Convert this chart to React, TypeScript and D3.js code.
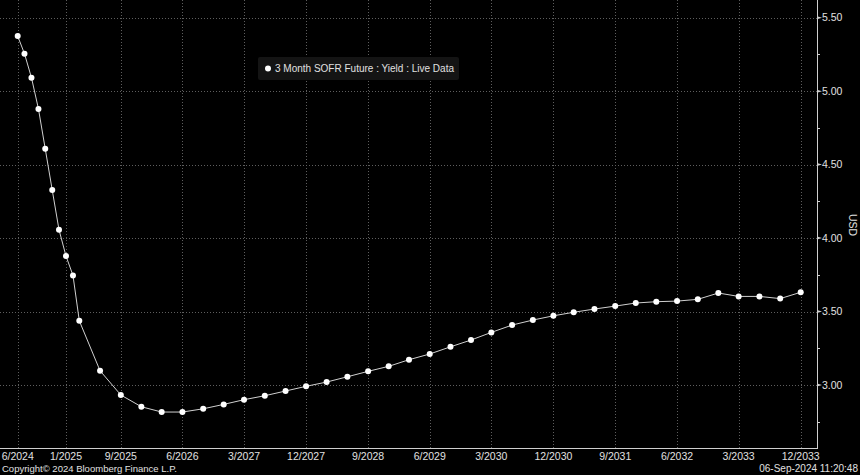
import React from "react";
import * as d3 from "d3";

const W = 860;
const H = 475;

// Contract months (year, month 1-12)
const contractMonths: [number, number][] = [
  [2024, 6], [2024, 7], [2024, 8], [2024, 9], [2024, 10], [2024, 11], [2024, 12],
  [2025, 1], [2025, 2], [2025, 3], [2025, 6], [2025, 9], [2025, 12],
  [2026, 3], [2026, 6], [2026, 9], [2026, 12],
  [2027, 3], [2027, 6], [2027, 9], [2027, 12],
  [2028, 3], [2028, 6], [2028, 9], [2028, 12],
  [2029, 3], [2029, 6], [2029, 9], [2029, 12],
  [2030, 3], [2030, 6], [2030, 9], [2030, 12],
  [2031, 3], [2031, 6], [2031, 9], [2031, 12],
  [2032, 3], [2032, 6], [2032, 9], [2032, 12],
  [2033, 3], [2033, 6], [2033, 9], [2033, 12],
];

const yields: number[] = [
  5.375, 5.255, 5.092, 4.879, 4.608, 4.327, 4.057,
  3.878, 3.746, 3.437, 3.097, 2.932, 2.852,
  2.816, 2.816, 2.838, 2.868,
  2.900, 2.927, 2.959, 2.991,
  3.020, 3.056, 3.093, 3.127,
  3.172, 3.211, 3.260, 3.306,
  3.358, 3.408, 3.442, 3.471,
  3.495, 3.517, 3.537, 3.558,
  3.567, 3.571, 3.583, 3.626,
  3.603, 3.603, 3.588, 3.631,
];

const xTickLabels: string[] = [
  "6/2024", "1/2025", "9/2025", "6/2026", "3/2027", "12/2027", "9/2028",
  "6/2029", "3/2030", "12/2030", "9/2031", "6/2032", "3/2033", "12/2033",
];

const yMajorTicks: number[] = [3.0, 3.5, 4.0, 4.5, 5.0, 5.5];
const yMinorTicks: number[] = [2.75, 3.25, 3.75, 4.25, 4.75, 5.25];

const legendLabel = "3 Month SOFR Future : Yield : Live Data";
const axisTitle = "USD";
const copyright = "Copyright\u00A9 2024 Bloomberg Finance L.P.";
const timestamp = "06-Sep-2024 11:20:48";

const toDate = (y: number, m: number) => new Date(y, m - 1, 1);
const parseTick = (s: string) => {
  const [m, y] = s.split("/").map(Number);
  return toDate(y, m);
};

export default function App() {
  const plotRight = 817;
  const plotBottom = 448;

  const x = d3
    .scaleTime()
    .domain([toDate(2024, 6), toDate(2033, 12)])
    .range([17.7, 800.7]);
  const y = d3.scaleLinear().domain([3.0, 5.5]).range([385, 17.7]);

  const data = contractMonths.map((cm, i) => ({ d: toDate(cm[0], cm[1]), v: yields[i] }));
  const line = d3
    .line<{ d: Date; v: number }>()
    .x((p) => x(p.d))
    .y((p) => y(p.v));

  const font = "'Liberation Sans', Arial, sans-serif";
  const textColor = "#e0e0e0";
  const gridColor = "#5e5e5e";

  return (
    <svg
      width={W}
      height={H}
      style={{ position: "absolute", left: 0, top: 0, background: "#000" }}
      fontFamily={font}
    >
      <rect x={0} y={0} width={W} height={H} fill="#000" />
      {/* horizontal grid */}
      {yMajorTicks.map((t) => (
        <line
          key={"hg" + t}
          x1={0}
          x2={plotRight}
          y1={Math.round(y(t)) + 0.5}
          y2={Math.round(y(t)) + 0.5}
          stroke={gridColor}
          strokeWidth={1}
          strokeDasharray="1,2"
        />
      ))}
      {/* vertical grid */}
      {xTickLabels.map((s) => {
        const xx = Math.round(x(parseTick(s))) + 0.5;
        return (
          <line
            key={"vg" + s}
            x1={xx}
            x2={xx}
            y1={0}
            y2={plotBottom}
            stroke={gridColor}
            strokeWidth={1}
            strokeDasharray="1,2"
          />
        );
      })}
      {/* axes */}
      <line x1={plotRight + 0.5} x2={plotRight + 0.5} y1={0} y2={plotBottom + 1} stroke="#cfcfcf" strokeWidth={1} />
      <line x1={0} x2={plotRight + 1} y1={plotBottom + 0.5} y2={plotBottom + 0.5} stroke="#cfcfcf" strokeWidth={1} />
      {yMajorTicks.map((t) => (
        <g key={"yt" + t}>
          <path
            d={`M${plotRight},${y(t) - 1.5} L${plotRight + 5},${y(t)} L${plotRight},${y(t) + 1.5} Z`}
            fill="#cfcfcf"
          />
          <text x={plotRight + 5} y={y(t)} dy="0.35em" fontSize={10.5} fill={textColor}>
            {t.toFixed(2)}
          </text>
        </g>
      ))}
      {yMinorTicks.map((t) => (
        <line
          key={"ym" + t}
          x1={plotRight}
          x2={plotRight + 3}
          y1={Math.round(y(t)) + 0.5}
          y2={Math.round(y(t)) + 0.5}
          stroke="#cfcfcf"
        />
      ))}
      {xTickLabels.map((s) => (
        <text
          key={"xt" + s}
          x={x(parseTick(s))}
          y={460}
          textAnchor="middle"
          fontSize={10.5}
          fill={textColor}
        >
          {s}
        </text>
      ))}
      <text
        transform={`translate(849,225) rotate(90)`}
        textAnchor="middle"
        fontSize={10.5}
        fill={textColor}
      >
        {axisTitle}
      </text>
      {/* series */}
      <path d={line(data) || ""} fill="none" stroke="#d0d0d0" strokeWidth={1} />
      {data.map((p, i) => (
        <circle key={"pt" + i} cx={x(p.d)} cy={y(p.v)} r={3} fill="#ffffff" />
      ))}
      {/* legend */}
      <rect x={258} y={57} width={201} height={23} rx={2} fill="#141414" />
      <circle cx={268} cy={68.5} r={3} fill="#ffffff" />
      <text x={275} y={68.5} dy="0.35em" fontSize={10} fill={textColor} textLength={179} lengthAdjust="spacingAndGlyphs">
        {legendLabel}
      </text>
      {/* footer */}
      <text x={2} y={472} fontSize={9.6} fill={textColor} textLength={175} lengthAdjust="spacingAndGlyphs">
        {copyright}
      </text>
      <text x={858} y={472} textAnchor="end" fontSize={10} fill={textColor}>
        {timestamp}
      </text>
    </svg>
  );
}
